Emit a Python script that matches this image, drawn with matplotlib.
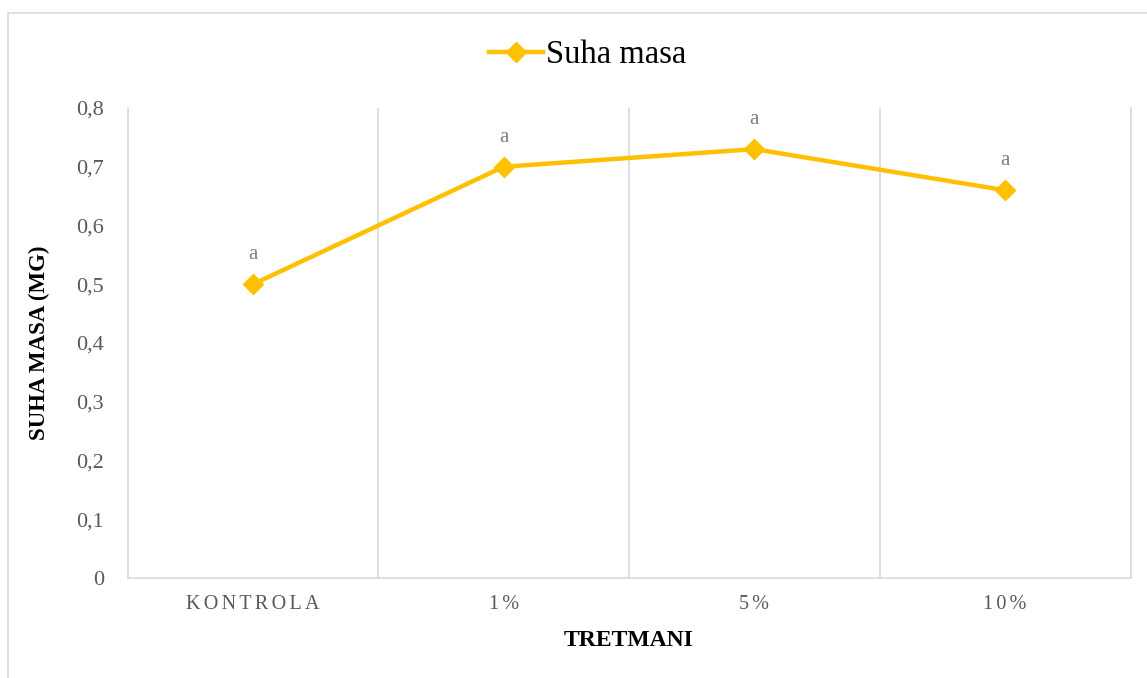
import matplotlib
matplotlib.use("Agg")
import matplotlib.pyplot as plt
from matplotlib.patches import Rectangle
from matplotlib.lines import Line2D

categories = ["KONTROLA", "1%", "5%", "10%"]
values = [0.50, 0.70, 0.73, 0.66]
letters = ["a", "a", "a", "a"]
y_ticks = [0, 0.1, 0.2, 0.3, 0.4, 0.5, 0.6, 0.7, 0.8]
y_tick_labels = ["0", "0,1", "0,2", "0,3", "0,4", "0,5", "0,6", "0,7", "0,8"]
series_name = "Suha masa"

plt.rcParams['font.family'] = ['Liberation Serif', 'DejaVu Serif']

W, H = 1147, 678
fig = plt.figure(figsize=(W / 100, H / 100), dpi=100)
fig.patch.set_facecolor("white")

# outer chart border
fig.patches.append(Rectangle((8 / W, -0.05), 1.2, 1 - 13 / H + 0.05,
                             transform=fig.transFigure, fill=False,
                             edgecolor="#d9d9d9", linewidth=1.2))

left, right, top, bottom = 127.5, 1130.5, 108, 578
ax = fig.add_axes([left / W, 1 - bottom / H, (right - left) / W, (bottom - top) / H])

x = list(range(len(categories)))
line_color = "#FFC000"
ax.plot(x, values, color=line_color, linewidth=3.2, marker="D", markersize=10,
        markeredgecolor=line_color, markerfacecolor=line_color, zorder=3)

for xi, v, lab in zip(x, values, letters):
    ax.annotate(lab, (xi, v), xytext=(0, 18), textcoords="offset points",
                ha="center", va="baseline", fontsize=15, color="#7f7f7f")

ax.set_xlim(-0.5, len(categories) - 0.5)
ax.set_ylim(0, 0.8)
ax.set_yticks(y_ticks)
ax.set_yticklabels(y_tick_labels)
ax.set_xticks(x)
spaced = ["\u200a\u200a".join(list(c)) for c in categories]
ax.set_xticklabels(spaced)
ax.set_xticks([i - 0.5 for i in range(len(categories) + 1)], minor=True)
ax.grid(True, which="minor", axis="x", color="#d9d9d9", linewidth=1.2)
ax.grid(False, which="major")
ax.tick_params(axis="both", which="both", length=0)
ax.tick_params(axis="y", labelsize=16, labelcolor="#595959", pad=17)
ax.tick_params(axis="x", labelsize=14.5, labelcolor="#595959", pad=12)

ax.spines["top"].set_visible(False)
for s in ["left", "right", "bottom"]:
    ax.spines[s].set_color("#d9d9d9")
    ax.spines[s].set_linewidth(1.2)

ax.set_xlabel("TRETMANI", fontsize=17, fontweight="bold", labelpad=12)
ax.set_ylabel("SUHA MASA (MG)", fontsize=16.5, fontweight="bold", labelpad=19)

handle = Line2D([0], [0], color=line_color, linewidth=3.2, marker="D",
                markersize=10, markeredgecolor=line_color, markerfacecolor=line_color)
fig.legend([handle], [series_name], loc="center", bbox_to_anchor=(588 / W, 1 - 55 / H),
           frameon=False, fontsize=23.5, handlelength=1.65, handletextpad=0.1,
           borderpad=0)

fig.savefig("out.png", dpi=100, facecolor="white")
